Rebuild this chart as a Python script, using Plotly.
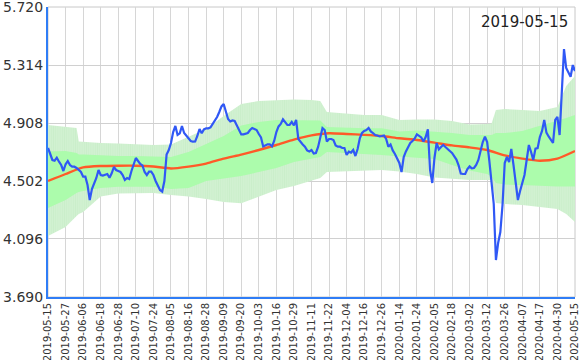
import plotly.graph_objects as go

# ---- data ----
tick_dates = ["2019-05-15", "2019-05-27", "2019-06-06", "2019-06-18", "2019-06-28",
              "2019-07-10", "2019-07-24", "2019-08-05", "2019-08-16", "2019-08-28",
              "2019-09-09", "2019-09-20", "2019-10-03", "2019-10-16", "2019-10-29",
              "2019-11-11", "2019-11-22", "2019-12-04", "2019-12-16", "2019-12-26",
              "2020-01-14", "2020-01-24", "2020-02-05", "2020-02-18", "2020-03-02",
              "2020-03-12", "2020-03-26", "2020-04-07", "2020-04-17", "2020-04-30",
              "2020-05-15"]
tick_days = [0, 8, 16, 24, 32, 40, 48, 56, 64, 72, 80, 88, 96, 104, 112, 120,
             128, 136, 144, 152, 160, 168, 176, 184, 192, 200, 208, 216, 224, 232, 240]

close = [4.733, 4.684, 4.649, 4.644, 4.665, 4.637, 4.614, 4.572, 4.619, 4.642,
         4.614, 4.602, 4.602, 4.593, 4.579, 4.565, 4.532, 4.532, 4.474, 4.369,
         4.446, 4.481, 4.523, 4.579, 4.544, 4.540, 4.544, 4.551, 4.525, 4.556,
         4.600, 4.579, 4.572, 4.565, 4.544, 4.509, 4.523, 4.516, 4.572, 4.614,
         4.663, 4.642, 4.621, 4.611, 4.565, 4.544, 4.567, 4.567, 4.544, 4.502,
         4.467, 4.439, 4.428, 4.502, 4.687, 4.719, 4.768, 4.845, 4.887, 4.824,
         4.835, 4.887, 4.838, 4.817, 4.800, 4.782, 4.777, 4.778, 4.817, 4.866,
         4.836, 4.863, 4.871, 4.871, 4.877, 4.901, 4.929, 4.950, 4.985, 5.024,
         5.041, 4.985, 4.936, 4.919, 4.926, 4.922, 4.891, 4.849, 4.828, 4.829,
         4.832, 4.838, 4.859, 4.873, 4.866, 4.859, 4.831, 4.807, 4.744, 4.754,
         4.759, 4.759, 4.744, 4.782, 4.845, 4.884, 4.901, 4.933, 4.917, 4.894,
         4.894, 4.915, 4.891, 4.929, 4.796, 4.775, 4.758, 4.742, 4.716, 4.709,
         4.719, 4.694, 4.698, 4.740, 4.807, 4.873, 4.859, 4.778, 4.796, 4.796,
         4.789, 4.751, 4.742, 4.742, 4.733, 4.733, 4.684, 4.707, 4.701, 4.719,
         4.677, 4.726, 4.800, 4.838, 4.852, 4.859, 4.873, 4.849, 4.838, 4.824,
         4.821, 4.814, 4.817, 4.821, 4.796, 4.742, 4.758, 4.716, 4.691, 4.656,
         4.628, 4.565, 4.670, 4.709, 4.740, 4.768, 4.782, 4.800, 4.828, 4.817,
         4.807, 4.778, 4.810, 4.863, 4.579, 4.488, 4.663, 4.768, 4.723, 4.740,
         4.754, 4.740, 4.723, 4.712, 4.698, 4.677, 4.652, 4.611, 4.554, 4.551,
         4.551, 4.586, 4.604, 4.590, 4.593, 4.614, 4.649, 4.712, 4.775, 4.812,
         4.775, 4.642, 4.488, 4.341, 3.949, 4.068, 4.145, 4.334, 4.628, 4.670,
         4.635, 4.726, 4.614, 4.488, 4.369, 4.432, 4.481, 4.544, 4.649, 4.754,
         4.705, 4.649, 4.729, 4.733, 4.810, 4.852, 4.929, 4.841, 4.814, 4.786,
         4.768, 4.929, 4.950, 4.824, 5.174, 5.426, 5.293, 5.265, 5.232, 5.314,
         5.272]
close_days = list(range(len(close)))

ma = [4.502, 4.551, 4.597, 4.607, 4.609, 4.609, 4.603, 4.590, 4.603, 4.624,
      4.659, 4.687, 4.719, 4.754, 4.792, 4.821, 4.836, 4.831, 4.825, 4.817,
      4.801, 4.789, 4.771, 4.751, 4.737, 4.719, 4.681, 4.659, 4.644, 4.659,
      4.712]

band_days = [0, 8, 13, 14, 16, 24, 32, 40, 48, 56, 64, 72, 80, 88, 96, 104, 112,
             120, 124, 127, 136, 144, 152, 160, 168, 176, 184, 192, 200, 202, 204,
             208, 216, 224, 232, 236, 240]
outer_upper = [4.894, 4.884, 4.873, 4.778, 4.775, 4.768, 4.765, 4.761, 4.754, 4.758,
               4.810, 4.866, 4.957, 5.041, 5.062, 5.069, 5.073, 5.069, 5.062, 4.985,
               4.974, 4.964, 4.964, 4.929, 4.933, 4.933, 4.922, 4.898, 4.901, 4.905,
               4.999, 5.006, 4.999, 4.992, 5.020, 5.167, 5.237]
inner_upper = [4.708, 4.712, 4.698, 4.687, 4.687, 4.680, 4.677, 4.677, 4.673, 4.670,
               4.705, 4.761, 4.817, 4.891, 4.915, 4.929, 4.929, 4.929, 4.926, 4.880,
               4.873, 4.871, 4.871, 4.849, 4.856, 4.849, 4.838, 4.824, 4.824, 4.824,
               4.838, 4.838, 4.852, 4.887, 4.922, 4.943, 4.964]
inner_lower = [4.313, 4.369, 4.418, 4.425, 4.432, 4.453, 4.462, 4.463, 4.462, 4.446,
               4.453, 4.502, 4.519, 4.537, 4.565, 4.593, 4.635, 4.656, 4.670, 4.705,
               4.698, 4.691, 4.684, 4.673, 4.666, 4.656, 4.614, 4.575, 4.551, 4.533,
               4.488, 4.477, 4.474, 4.467, 4.463, 4.463, 4.463]
outer_lower = [4.117, 4.180, 4.257, 4.271, 4.285, 4.393, 4.414, 4.418, 4.418, 4.404,
               4.393, 4.376, 4.355, 4.346, 4.390, 4.439, 4.467, 4.502, 4.523, 4.565,
               4.569, 4.572, 4.579, 4.569, 4.551, 4.526, 4.516, 4.509, 4.509, 4.509,
               4.348, 4.341, 4.334, 4.320, 4.306, 4.271, 4.215]

y_ticks = [3.690, 4.096, 4.502, 4.908, 5.314, 5.720]
y_labels = ["3.690", "4.096", "4.502", "4.908", "5.314", "5.720"]
title_text = "2019-05-15"

# ---- figure ----
fig = go.Figure()

# outer band: vertical hatching
fig.add_trace(go.Scatter(x=band_days, y=outer_lower, mode="lines",
                         line=dict(width=0), showlegend=False, hoverinfo="skip"))
fig.add_trace(go.Scatter(x=band_days, y=outer_upper, mode="lines",
                         line=dict(width=0), fill="tonexty", showlegend=False,
                         fillcolor="rgba(196,236,196,0.9)",
                         fillpattern=dict(shape="|", size=2.2, solidity=0.6,
                                          fgcolor="rgb(190,234,190)",
                                          bgcolor="rgb(214,242,214)"),
                         hoverinfo="skip"))
# inner band: solid
fig.add_trace(go.Scatter(x=band_days, y=inner_lower, mode="lines",
                         line=dict(width=0), showlegend=False, hoverinfo="skip"))
fig.add_trace(go.Scatter(x=band_days, y=inner_upper, mode="lines",
                         line=dict(width=0), fill="tonexty", showlegend=False,
                         fillcolor="rgba(170,252,170,0.95)", hoverinfo="skip"))

fig.add_trace(go.Scatter(x=tick_days, y=ma, mode="lines",
                         line=dict(color="#ff5a28", width=2.4, shape="spline", smoothing=0.6),
                         showlegend=False))
fig.add_trace(go.Scatter(x=close_days, y=close, mode="lines",
                         line=dict(color="#3058f5", width=2.2),
                         showlegend=False))

fig.add_annotation(text=title_text, xref="paper", yref="paper", x=0.99, y=0.985,
                   xanchor="right", yanchor="top", showarrow=False,
                   font=dict(family="DejaVu Sans", size=15, color="#222222"))

fig.add_shape(type="rect", xref="paper", yref="paper", x0=0, y0=0, x1=1, y1=1,
              line=dict(color="#c8c8c8", width=1), layer="below")

fig.update_xaxes(range=[-0.01, 240.01], tickmode="array", tickvals=tick_days,
                 ticktext=tick_dates, tickangle=-90, automargin=False,
                 ticklabeloverflow="allow",
                 tickfont=dict(family="DejaVu Sans", size=10, color="#333333"),
                 showgrid=True, gridcolor="#d6d6d6", gridwidth=1,
                 showline=True, linecolor="#2f7df6", linewidth=2,
                 zeroline=False, ticks="")
fig.update_yaxes(range=[3.6899, 5.7201], tickmode="array", tickvals=y_ticks,
                 ticktext=y_labels, automargin=False,
                 ticklabeloverflow="allow",
                 tickfont=dict(family="DejaVu Sans", size=14, color="#333333"),
                 showgrid=True, gridcolor="#d0d0d0", gridwidth=1,
                 showline=True, linecolor="#2f7df6", linewidth=2,
                 zeroline=False, ticks="")

fig.update_layout(width=585, height=360,
                  margin=dict(l=48, r=10, t=7, b=63),
                  plot_bgcolor="white", paper_bgcolor="white",
                  showlegend=False)

fig.write_html("out.html", config={"displayModeBar": False},
               post_script="document.body.style.margin='0';document.body.style.overflow='hidden';")
